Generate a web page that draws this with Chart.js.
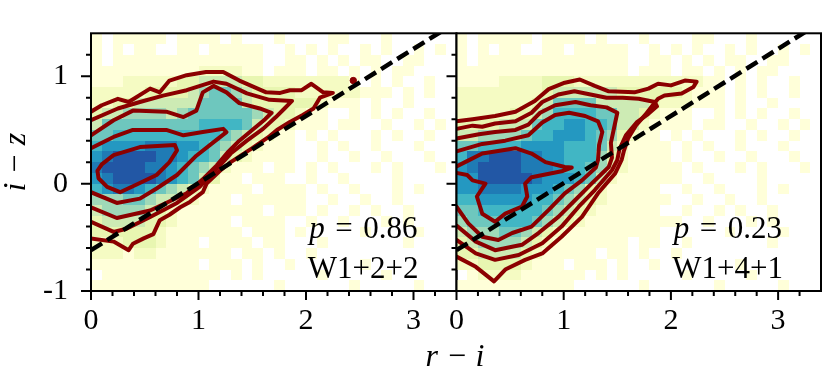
<!DOCTYPE html>
<html><head><meta charset="utf-8">
<script src="https://cdn.jsdelivr.net/npm/chart.js@4.4.0/dist/chart.umd.min.js"></script>
<style>
html,body{margin:0;padding:0;background:#fff;}
#wrap{position:relative;width:830px;height:373px;overflow:hidden;}
canvas{position:absolute;left:0;top:0;}
</style></head><body>
<div id="wrap"><canvas id="c1" width="830" height="373"></canvas><canvas id="c2" width="830" height="373"></canvas></div>
<script>
// ---------- data ----------
const X_MIN = 0, X_MAX = 3.4, Y_MIN = -1, Y_MAX = 1.4, BIN = 0.1;
const X_TICKS = [0,0.2,0.4,0.6,0.8,1,1.2,1.4,1.6,1.8,2,2.2,2.4,2.6,2.8,3,3.2];
const Y_TICKS = [-1,-0.8,-0.6,-0.4,-0.2,0,0.2,0.4,0.6,0.8,1,1.2];
const X_LABELED = [0,1,2,3];
const Y_LABELED = [-1,0,1];

// 2D histogram rows, top (y=1.4) to bottom (y=-1.0); columns x=0..3.4 in 0.1 bins
// '.' = empty, '0'..'9' = density level
const HIST_A = [
"0.00000.0000.0...0....00...0......",
"0.0.00..00.00000..0.0.0..0.0..0.0.",
"0.00000000000000..00.0.0.00..00...",
"0000000000111100.000.00.0.0.00....",
"0001111122333322111111110.0.0..0..",
"1111122223455432222111111000.0.0..",
"1122333333555532222221000.0..0....",
"2334444345555554322100..0.0.0..0..",
"3555555555666653221000.00..0..0.0.",
"5566666666665432100.0.0...0.0..0..",
"6777788877654321000..0.0..0...0...",
"7899998876653210000..0..0..0...0..",
"8999988765431000.00.0.0...0.0...0.",
"78999987653200.000..0..0....0.....",
"678876543210000.0000.0..0...0.0...",
"4445543321000.000000..0..0..0.....",
"3444432100000000.000.0..0.0..0....",
"2333322100000.0000..0..0...0.0....",
"22222210000000.000.0.....0....0...",
"1112221000.0000.00...0.......0....",
"1110110000000.00.0..0.............",
"0000000000.000.0..0......0........",
".00000000000.0.0.....0.....0......",
"00000000000......0......0.....0..."
];
const HIST_B = [
"0.00000.0000.0...0....00...0......",
"0.0.00..00.00000..0.0.0..0.0..0.0.",
"0.00000000000000..00.0.0.00..00...",
"0000000000000000.000.00.0.0.00....",
"0000111122211111111111100.0.0..0..",
"1111111123333332222221000.0.0..0..",
"1111111235555333332111000.0..0....",
"1111122346666553321000..0.0.0..0..",
"2222333566776653310000.00..0..0.0.",
"3344445667776542100.0.0...0.0..0..",
"55666677776665310000.0.0..0...0...",
"68899988776664210000.0..0..0...0..",
"789999888766542100000.0...0.0...0.",
"779999987776531000000..0....0.....",
"7788887776542100000..0..0...0.0...",
"66777776654321000000..0..0..0.....",
"5566666654321000000..0..0.0..0....",
"455566654321000000000..0...0.0....",
"3444554321000000000......0....0...",
"2344443210000000.00..0.......0....",
"2233332100000.00.0..0.............",
"1122221000.000.0..0.......0.......",
".01111000000.0.0.....0.....0......",
"00000000000......0......0.....0..."
];

// contour lines (r-i, i-z), panel W1+2+2
const A_LEVEL1 = [[0,0.67],[0.1,0.73],[0.25,0.79],[0.35,0.76],[0.55,0.885],[0.64,0.85],[0.73,0.96],[0.89,1.01],[1.07,1.04],[1.23,1.04],[1.38,0.96],[1.63,0.85],[1.76,0.845],[1.85,0.87],[1.96,0.87],[2.05,0.93],[2.16,0.85],[2.25,0.845],[2.13,0.80],[2.07,0.70],[1.97,0.64],[1.85,0.575],[1.73,0.50],[1.66,0.44],[1.5,0.33],[1.3,0.2],[1.2,0.12],[1.075,0.0],[1.04,-0.08],[0.92,-0.17],[0.83,-0.22],[0.73,-0.29],[0.64,-0.34],[0.58,-0.47],[0.49,-0.51],[0.39,-0.56],[0.35,-0.62],[0.21,-0.54],[0,-0.51]];
const A_LEVEL2 = [[0,0.59],[0.25,0.70],[0.455,0.76],[0.67,0.82],[0.89,0.87],[1.14,0.95],[1.26,0.93],[1.45,0.84],[1.66,0.78],[1.87,0.77],[1.80,0.70],[1.72,0.62],[1.6,0.51],[1.45,0.40],[1.3,0.28],[1.2,0.17],[1.01,-0.03],[0.80,-0.18],[0.55,-0.31],[0.33,-0.42],[0.21,-0.45],[0,-0.355]];
const A_LEVEL3 = [[0,0.45],[0.21,0.59],[0.39,0.68],[0.70,0.67],[0.86,0.62],[0.98,0.68],[1.04,0.85],[1.14,0.91],[1.26,0.85],[1.38,0.75],[1.57,0.70],[1.68,0.66],[1.62,0.60],[1.5,0.50],[1.38,0.40],[1.28,0.30],[1.17,0.17],[1.05,0.05],[0.89,-0.09],[0.55,-0.25],[0.24,-0.32],[0,-0.22]];
const A_LEVEL4 = [[0,0.33],[0.21,0.435],[0.39,0.50],[0.70,0.50],[0.86,0.45],[1.04,0.48],[1.23,0.51],[1.26,0.48],[1.12,0.37],[0.98,0.26],[0.80,0.08],[0.61,-0.045],[0.455,-0.14],[0.24,-0.18],[0,-0.08]];
const A_LEVEL5 = [[0.06,0.12],[0.10,0.18],[0.21,0.265],[0.455,0.34],[0.78,0.36],[0.80,0.31],[0.73,0.20],[0.61,0.08],[0.42,-0.01],[0.27,-0.08],[0.15,-0.03],[0.07,0.05],[0.06,0.12]];
const A_ISLAND = [[2.44,0.96]];

// contour lines, panel W1+4+1
const B_LEVEL1 = [[0,0.58],[0.15,0.6],[0.36,0.63],[0.55,0.67],[0.73,0.77],[0.86,0.88],[1.01,0.94],[1.15,0.97],[1.29,0.91],[1.42,0.86],[1.66,0.85],[1.79,0.885],[1.88,0.93],[2.0,0.915],[2.13,0.96],[2.24,0.95],[2.21,0.90],[2.10,0.84],[1.94,0.82],[1.88,0.79],[1.83,0.73],[1.76,0.64],[1.68,0.55],[1.60,0.42],[1.56,0.30],[1.54,0.22],[1.48,0.095],[1.32,-0.09],[1.17,-0.31],[0.98,-0.495],[0.80,-0.65],[0.64,-0.71],[0.455,-0.80],[0.35,-0.91],[0.18,-0.775],[0,-0.68]];
const B_LEVEL2 = [[0,0.51],[0.15,0.54],[0.24,0.53],[0.36,0.56],[0.55,0.58],[0.70,0.66],[0.80,0.76],[0.95,0.83],[1.10,0.86],[1.25,0.83],[1.40,0.80],[1.55,0.80],[1.70,0.79],[1.85,0.76],[1.87,0.72],[1.79,0.65],[1.68,0.57],[1.58,0.45],[1.52,0.32],[1.50,0.22],[1.45,0.125],[1.29,-0.06],[1.14,-0.215],[0.98,-0.40],[0.80,-0.555],[0.58,-0.665],[0.36,-0.71],[0.18,-0.65],[0,-0.525]];
const B_LEVEL3 = [[0,0.42],[0.21,0.46],[0.36,0.48],[0.55,0.50],[0.67,0.55],[0.78,0.66],[0.92,0.73],[1.11,0.76],[1.25,0.73],[1.40,0.71],[1.50,0.66],[1.47,0.52],[1.44,0.38],[1.45,0.24],[1.42,0.155],[1.26,0.0],[1.11,-0.15],[0.95,-0.31],[0.765,-0.46],[0.61,-0.57],[0.36,-0.62],[0.18,-0.54],[0,-0.39]];
const B_LEVEL4 = [[0,0.30],[0.24,0.37],[0.455,0.40],[0.67,0.45],[0.80,0.57],[0.92,0.64],[1.05,0.66],[1.20,0.63],[1.32,0.58],[1.36,0.48],[1.33,0.36],[1.32,0.22],[1.30,0.15],[1.17,0.03],[1.01,-0.09],[0.86,-0.245],[0.70,-0.40],[0.52,-0.46],[0.39,-0.525],[0.24,-0.495],[0.11,-0.37],[0,-0.215]];
const B_LEVEL5 = [[0,0.16],[0.08,0.2],[0.24,0.28],[0.55,0.33],[0.70,0.28],[0.83,0.20],[1.01,0.155],[1.075,0.15],[0.98,0.115],[0.70,0.06],[0.64,0.0],[0.66,-0.12],[0.61,-0.215],[0.455,-0.28],[0.36,-0.355],[0.24,-0.28],[0.19,-0.12],[0.27,0.0],[0.15,0.03],[0.1,0.08],[0,0.1]];

// dashed dividing line endpoints
const DIVIDER_X = [0, 3.4];
const DIVIDER_Y = [-0.62, 1.505];

const P_VALUES = ['0.86', '0.23'];
const MODELS = ['W1+2+2', 'W1+4+1'];
const X_TITLE = 'r − i';
const Y_TITLE = 'i − z';

// ---------- style ----------
const FONT = '"Liberation Serif", "Times New Roman", serif';
const TICK_SIZE = 30, LABEL_SIZE = 32, NOTE_SIZE = 31;
const RED = '#8b0000';
const YLGNBU = [[255,255,217],[237,248,177],[199,233,180],[127,205,187],[65,182,196],[29,145,192],[34,94,168],[37,52,148],[8,29,88]];
const LEVEL_FRAC = [0.0, 0.07, 0.14, 0.23, 0.32, 0.41, 0.5, 0.6, 0.68, 0.77];
function cmap(t){
  const f = t*(YLGNBU.length-1), i = Math.min(Math.floor(f), YLGNBU.length-2), u = f-i;
  const c = YLGNBU[i].map((v,k)=>Math.round(v+(YLGNBU[i+1][k]-v)*u));
  return `rgb(${c[0]},${c[1]},${c[2]})`;
}
const LEVEL_COLORS = LEVEL_FRAC.map(cmap);

// ---------- plugins ----------
const heatPlugin = {
  id: 'heat',
  beforeDatasetsDraw(chart, args, opts) {
    const grid = opts.grid; if (!grid) return;
    const {ctx, chartArea: a, scales: {x, y}} = chart;
    ctx.save();
    ctx.beginPath(); ctx.rect(a.left, a.top, a.right - a.left, a.bottom - a.top); ctx.clip();
    grid.forEach((row, r) => {
      const yHi = Y_MAX - r * BIN, yLo = yHi - BIN;
      for (let c = 0; c < row.length; c++) {
        const ch = row[c]; if (ch === '.') continue;
        const x0 = X_MIN + c * BIN, x1 = x0 + BIN;
        const px0 = Math.round(x.getPixelForValue(x0)), px1 = Math.round(x.getPixelForValue(x1));
        const py0 = Math.round(y.getPixelForValue(yHi)), py1 = Math.round(y.getPixelForValue(yLo));
        ctx.fillStyle = LEVEL_COLORS[+ch];
        ctx.fillRect(px0, py0, px1 - px0, py1 - py0);
      }
    });
    ctx.restore();
  }
};

const framePlugin = {
  id: 'frame',
  afterDraw(chart, args, opts) {
    const {ctx, chartArea: a, scales: {x, y}} = chart;
    ctx.save();
    ctx.strokeStyle = '#000'; ctx.lineWidth = 2; ctx.lineCap = 'butt';
    ctx.beginPath();
    X_TICKS.forEach(v => {
      const px = x.getPixelForValue(v), L = Number.isInteger(v) ? 9 : 5;
      ctx.moveTo(px, a.bottom); ctx.lineTo(px, a.bottom + L);
    });
    Y_TICKS.forEach(v => {
      const py = y.getPixelForValue(v), L = Number.isInteger(v) ? 10 : 5;
      ctx.moveTo(a.left, py); ctx.lineTo(a.left - L, py);
    });
    ctx.stroke();
    ctx.strokeRect(a.left, a.top, a.right - a.left, a.bottom - a.top);

    // annotation
    ctx.fillStyle = '#000'; ctx.textBaseline = 'alphabetic';
    const R = a.right - 39;
    const normal = `${NOTE_SIZE}px ${FONT}`, ital = `italic ${NOTE_SIZE}px ${FONT}`;
    ctx.font = normal;
    const wNum = ctx.measureText(opts.pval).width, wEq = ctx.measureText('=').width;
    ctx.font = ital; const wP = ctx.measureText('p').width;
    const gap = NOTE_SIZE * 0.34;
    const x0 = R - wNum - gap - wEq - gap - wP;
    const yP = a.bottom - 53;
    ctx.textAlign = 'left';
    ctx.font = ital; ctx.fillText('p', x0, yP);
    ctx.font = normal; ctx.fillText('=', x0 + wP + gap, yP);
    ctx.fillText(opts.pval, R - wNum, yP);
    ctx.textAlign = 'right';
    ctx.fillText(opts.model, R + 1, a.bottom - 13);

    if (opts.titles) {
      ctx.font = `italic ${LABEL_SIZE}px ${FONT}`;
      ctx.textAlign = 'center';
      ctx.fillText(X_TITLE, 455, 366);
      ctx.save();
      ctx.translate(25, (a.top + a.bottom) / 2);
      ctx.rotate(-Math.PI / 2);
      ctx.fillText(Y_TITLE, 0, 0);
      ctx.restore();
    }
    ctx.restore();
  }
};

function pts(arr) { return arr.map(([x, y]) => ({x, y})); }

function makeChart(id, grid, contours, islands, pval, model, left) {
  const datasets = [
    {data: DIVIDER_X.map((x, i) => ({x, y: DIVIDER_Y[i]})), borderColor: '#000', borderWidth: 4.5,
     borderDash: [13, 6], borderCapStyle: 'butt', pointRadius: 0, showLine: true, tension: 0, clip: 0}
  ];
  contours.forEach(c => datasets.push({
    data: pts(c), borderColor: RED, borderWidth: 4, pointRadius: 0, showLine: true, tension: 0,
    borderJoinStyle: 'round', borderCapStyle: 'round', clip: 0
  }));
  if (islands.length) datasets.push({
    data: pts(islands), showLine: false, pointRadius: 3.2, pointBackgroundColor: RED,
    pointBorderColor: RED, pointBorderWidth: 1, clip: 0
  });
  return new Chart(document.getElementById(id), {
    type: 'scatter',
    data: {datasets},
    options: {
      responsive: false, animation: false, devicePixelRatio: 1, events: [],
      layout: {padding: {left: 0, top: 33.3, right: left ? 373.5 : 9, bottom: 0}},
      plugins: {legend: {display: false}, tooltip: {enabled: false},
        heat: {grid}, frame: {pval, model, titles: left}},
      scales: {
        x: {type: 'linear', min: X_MIN, max: X_MAX,
          grid: {display: false, drawTicks: true, tickLength: 9}, border: {display: false},
          ticks: {font: {family: FONT, size: TICK_SIZE}, color: '#000', padding: 3, maxRotation: 0,
                  autoSkip: false, callback: v => String(v)},
          afterBuildTicks: s => { s.ticks = X_LABELED.map(v => ({value: v})); },
          afterFit: s => { s.height = 82; }},
        y: {type: 'linear', min: Y_MIN, max: Y_MAX,
          grid: {display: false, drawTicks: true, tickLength: 10}, border: {display: false},
          ticks: {display: left, font: {family: FONT, size: TICK_SIZE}, color: '#000', padding: 13,
                  autoSkip: false, callback: v => String(v)},
          afterBuildTicks: s => { s.ticks = Y_LABELED.map(v => ({value: v})); },
          afterFit: s => { s.width = left ? 91 : 456.5; }}
      }
    },
    plugins: [heatPlugin, framePlugin]
  });
}

makeChart('c1', HIST_A, [A_LEVEL1, A_LEVEL2, A_LEVEL3, A_LEVEL4, A_LEVEL5], A_ISLAND, P_VALUES[0], MODELS[0], true);
makeChart('c2', HIST_B, [B_LEVEL1, B_LEVEL2, B_LEVEL3, B_LEVEL4, B_LEVEL5], [], P_VALUES[1], MODELS[1], false);
</script></body></html>
